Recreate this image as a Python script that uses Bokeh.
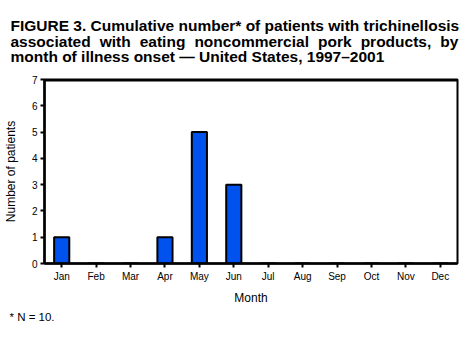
from bokeh.plotting import figure
from bokeh.models import Title, FixedTicker, Range1d, FactorRange, ColumnDataSource
from bokeh.embed import file_html
from bokeh.resources import INLINE

months = ["Jan", "Feb", "Mar", "Apr", "May", "Jun", "Jul", "Aug", "Sep", "Oct", "Nov", "Dec"]
patients = [1, 0, 0, 1, 5, 3, 0, 0, 0, 0, 0, 0]
y_ticks = [0, 1, 2, 3, 4, 5, 6, 7]
y_max = 7

title_line1 = "FIGURE 3. Cumulative number* of patients with trichinellosis"
title_line2_words = ["associated", "with", "eating", "noncommercial", "pork", "products,", "by"]
title_line3 = "month of illness onset \u2014 United States, 1997\u20132001"
footnote = "* N = 10."
x_label = "Month"
y_label = "Number of patients"

FONT = "Liberation Sans"
W, H = 472, 339
FL = 43

p = figure(width=W, height=H, x_range=FactorRange(factors=months),
           y_range=Range1d(0, y_max), output_backend="svg", toolbar_location=None,
           min_border_left=FL, min_border_right=15, min_border_top=0, min_border_bottom=76)

src = ColumnDataSource(dict(m=months, v=patients))
p.vbar(x="m", top="v", width=0.44, source=src, fill_color="#0052EE",
       line_color="black", line_width=2)
# top edge of the frame (outline is hidden under the title panel)
p.hspan(y=[y_max], line_color="black", line_width=4)

p.grid.visible = False
p.outline_line_color = "black"
p.outline_line_width = 2
p.background_fill_color = "white"
p.border_fill_color = "white"

p.yaxis.ticker = FixedTicker(ticks=y_ticks)
p.yaxis.minor_tick_line_color = None
for ax in (p.xaxis, p.yaxis):
    ax.axis_line_width = 2.5
    ax.axis_line_color = "black"
    ax.major_tick_line_width = 2
    ax.major_tick_out = 4
    ax.major_tick_in = 0
    ax.major_label_text_font = FONT
    ax.major_label_text_font_size = "10px"
    ax.major_label_text_color = "black"
    ax.major_label_standoff = 3
    ax.axis_label_text_font = FONT
    ax.axis_label_text_font_size = "12px"
    ax.axis_label_text_font_style = "normal"
    ax.axis_label_text_color = "black"
p.xaxis.axis_label = x_label
p.yaxis.axis_label = y_label
p.xaxis.axis_label_standoff = 6
p.yaxis.axis_label_standoff = 11

gap = "\u2002\u200a"
title_text = "\n".join([title_line1, gap.join(title_line2_words), title_line3])

p.add_layout(Title(text=title_text, align="left", offset=9 - FL, standoff=29,
                   text_font=FONT, text_font_size="15.5px", text_font_style="bold",
                   text_line_height=0.9, text_color="black"), "above")
p.add_layout(Title(text=footnote, align="left", offset=8 - FL, standoff=3,
                   text_font=FONT, text_font_size="11.5px", text_font_style="normal",
                   text_color="black"), "below")

open("out.html", "w").write(file_html(p, INLINE))
